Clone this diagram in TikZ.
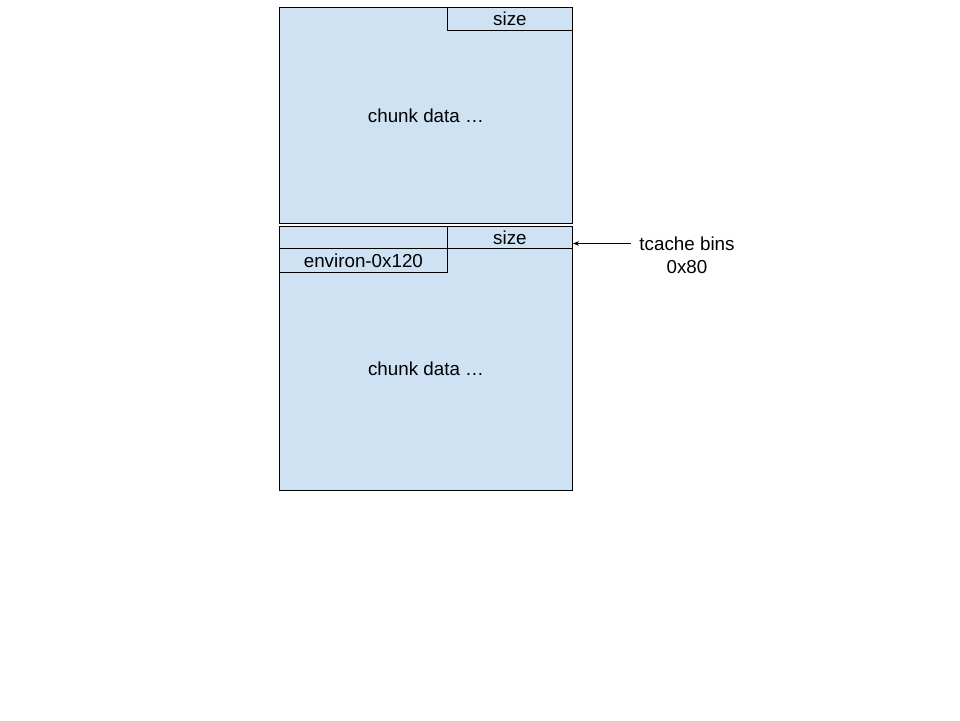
\documentclass[tikz,border=0pt]{standalone}
\usepackage{fontspec}
\setmainfont{Liberation Sans}
\usetikzlibrary{positioning,arrows.meta}
\definecolor{chunkblue}{HTML}{CFE2F3}

\begin{document}
\begin{tikzpicture}[x=1pt,y=-1pt,font=\fontsize{18.8}{23}\selectfont]
   \tikzstyle{arrow} = [line width=0.7pt,-{Stealth[length=6pt,width=4.5pt]}]
   \tikzset{chunk/.style = {rectangle, draw, fill=chunkblue, line width=0.8pt, anchor=north west, inner sep=0pt}, }
   \tikzset{field/.style = {chunk, text centered}, }
   \tikzset{lbl/.style = {align=center, inner sep=0pt}, }
   \useasboundingbox (0,0) rectangle (960,720);

   % first chunk
   \node[chunk, minimum width=293pt, minimum height=216pt] (C1) at (279,7) {chunk data \dots};
   \node[field, minimum width=125pt, minimum height=23pt] (S1) at (447,7) {size};

   % second chunk
   \node[chunk, minimum width=293pt, minimum height=264pt] (C2) at (279,226) {};
   \node[field, minimum width=168pt, minimum height=22pt] (P2) at (279,226) {};
   \node[field, minimum width=125pt, minimum height=22pt] (S2) at (447,226) {size};
   \node[field, minimum width=168pt, minimum height=24pt] (E2) at (279,248) {environ-0x120};
   \node[lbl] (D2) at (426,369) {chunk data \dots};

   % tcache pointer
   \node[lbl] (T) at (687,255.5) {tcache bins\\0x80};
   \coordinate (bin) at (573,243.5);
   \draw[arrow] ([xshift=-8pt]T.west |- bin) -- (bin);
\end{tikzpicture}
\end{document}
